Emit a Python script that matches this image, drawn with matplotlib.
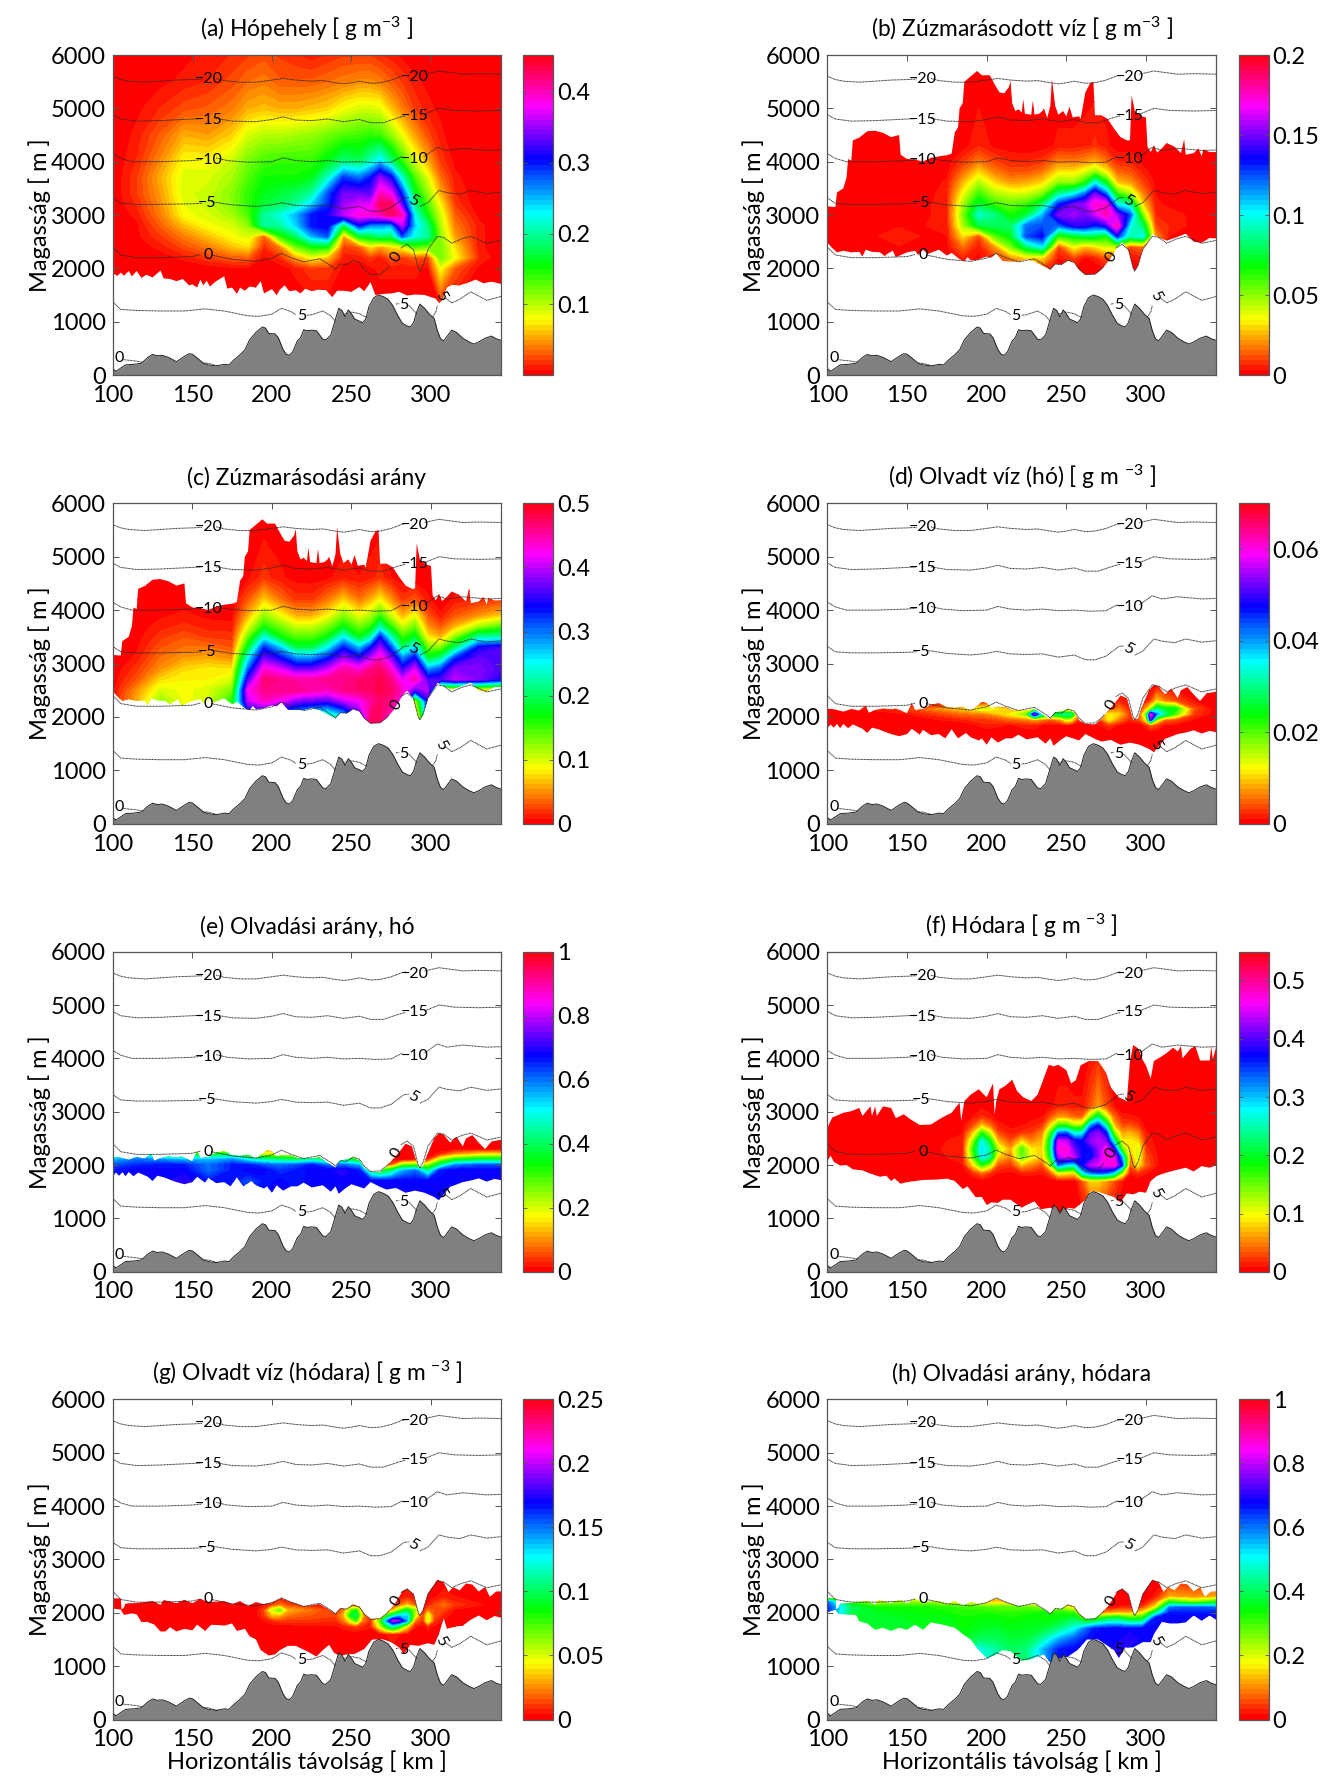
import numpy as np
import matplotlib
matplotlib.use('Agg')
import matplotlib.pyplot as plt
from matplotlib.patches import Polygon
from matplotlib.cm import ScalarMappable
from matplotlib.colors import Normalize

plt.rcParams['font.family'] = ['Lato', 'DejaVu Sans']
plt.rcParams['mathtext.fontset'] = 'custom'
plt.rcParams['mathtext.rm'] = 'Lato'
plt.rcParams['mathtext.default'] = 'regular'

# ---------- shared: terrain ----------
terrain_x = [100,102,105,108,113,118,122,125,128,131,135,140,145,148,150,153,157,160,165,170,173,176,180,183,186,190,194,196,198,202,204,207,209,211,213,216,218,220,222,225,228,230,232,234,237,240,242,244,246,248,250,252,255,257,259,261,264,267,270,273,276,279,282,285,287,289,291,293,296,299,302,304,306,308,310,313,316,320,324,327,330,334,338,341,345]
terrain_z = [120,70,130,190,200,220,330,385,360,370,330,250,350,400,390,320,220,190,170,200,190,280,380,470,660,800,900,880,780,770,700,480,390,370,430,640,700,850,830,840,830,750,670,660,750,1050,1250,1210,1090,1220,1150,1050,1010,980,1050,1280,1450,1500,1470,1420,1300,1120,970,920,900,980,1180,1330,1250,1140,1060,830,680,640,720,840,800,690,620,580,620,690,730,680,640]

# ---------- shared: isotherms (nan = gap for a label) ----------
nan = float('nan')
iso_m20_x = [100,105,110,120,130,140,150,156,nan,165,170,180,190,200,207,215,225,232,240,245,250,255,262,268,275,282,284,nan,296,305,310,320,330,345]
iso_m20_z = [5600,5540,5510,5490,5510,5530,5540,5550,nan,5560,5520,5490,5490,5530,5560,5530,5510,5520,5480,5460,5480,5510,5470,5480,5530,5610,5620,nan,5640,5700,5680,5640,5650,5640]
iso_m15_x = [100,105,115,130,150,156,nan,165,175,190,200,207,215,225,235,245,255,262,270,280,284,nan,296,305,315,330,345]
iso_m15_z = [4880,4800,4760,4770,4800,4810,nan,4810,4760,4750,4790,4840,4780,4770,4800,4750,4790,4730,4730,4830,4860,nan,4890,5000,4960,4950,4960]
iso_m10_x = [100,105,112,130,150,156,nan,165,172,185,200,207,215,225,235,245,255,265,275,282,nan,296,304,310,320,335,345]
iso_m10_z = [4150,4060,4000,4000,4020,4040,nan,4070,4020,3990,4000,4070,4020,4000,4020,3990,4000,3980,3990,4100,nan,4100,4270,4210,4250,4210,4220]
iso_m5_x = [100,105,115,130,150,156,nan,162,175,190,200,206,215,225,235,245,255,262,268,275,283,286,nan,293,298,305,310,318,325,335,345]
iso_m5_z = [3320,3220,3200,3200,3210,3220,nan,3250,3190,3160,3190,3230,3180,3170,3180,3120,3160,3070,3070,3140,3320,3330,nan,3160,3230,3460,3420,3390,3460,3400,3430]
iso_0_x = [100,105,115,130,150,155,nan,162,175,190,200,206,212,220,230,237,240,243,247,251,255,258,262,268,272,274,nan,281,285,289,292,293,295,298,304,308,313,319,325,335,345]
iso_0_z = [2400,2250,2200,2200,2220,2260,nan,2250,2170,2130,2190,2280,2200,2120,2180,2050,1980,2080,2070,2150,2110,1980,1880,1890,1980,2050,nan,2380,2450,2350,2000,1950,2050,2350,2600,2580,2470,2550,2600,2470,2530]
iso_5_x = [100,105,115,130,145,158,170,185,192,200,206,212,215,nan,222,225,232,237,240,246,250,255,258,262,nan,278,280,nan,286,290,294,300,303,304,nan,309,313,318,325,335,345]
iso_5_z = [1370,1230,1210,1200,1200,1240,1200,1110,1100,1140,1250,1190,1130,nan,1120,1130,1200,1110,1000,1150,1180,1150,1100,1050,nan,1330,1340,nan,1310,1180,1000,1050,1180,1300,nan,1450,1350,1420,1560,1400,1480]
iso_0low_x = [106,115,125,135,150,160,168]
iso_0low_z = [290,260,200,150,230,220,150]

label_txt = ['\u221220','\u221220','\u221215','\u221215','\u221210','\u221210','\u22125','5','0','0','5','5','5','0']
label_x = [160,290,160,290,160,290,159,289,160,278,218.5,283,306,104]
label_z = [5550,5590,4780,4860,4030,4050,3220,3270,2250,2220,1110,1310,1480,320]
label_rot = [0,0,0,0,0,0,0,-30,0,60,0,0,-60,0]

# ---------- data grids ----------
X_main = [100,115,130,145,160,175,185,195,205,215,225,235,245,255,262,268,275,282,290,298,306,315,330,345]

# (a) snow
Z_a = [1200,2000,2200,2400,2600,2800,3000,3200,3400,3700,4000,4500,5000,5500,6000]
F_a = [
 [0]*24,
 [0,0,0,0,.003,.005,.005,0,.003,.01,.02,.02,.005,.003,.005,.01,.01,.01,.01,.005,.08,.03,.005,0],
 [0,0,.003,.01,.02,.03,.03,.005,.015,.05,.08,.06,.01,.01,.02,.01,.03,.02,.03,.02,.12,.08,.015,0],
 [0,.003,.01,.025,.04,.06,.07,.015,.04,.12,.15,.15,.02,.03,.07,.05,.07,.08,.13,.12,.12,.07,.01,0],
 [0,.005,.02,.04,.06,.08,.09,.03,.14,.18,.25,.28,.05,.16,.17,.19,.18,.28,.22,.20,.11,.05,.01,0],
 [0,.005,.03,.06,.08,.09,.11,.20,.20,.24,.30,.31,.17,.30,.26,.26,.25,.36,.24,.19,.10,.04,.01,0],
 [0,.01,.04,.08,.09,.105,.13,.20,.22,.25,.30,.31,.36,.39,.39,.40,.43,.40,.22,.15,.09,.03,.005,0],
 [0,.015,.045,.085,.095,.115,.14,.17,.18,.20,.24,.29,.35,.37,.37,.43,.43,.33,.19,.13,.075,.02,0,0],
 [0,.02,.05,.09,.095,.115,.14,.16,.17,.18,.20,.28,.34,.34,.33,.40,.38,.29,.16,.11,.055,.015,0,0],
 [0,.02,.055,.09,.09,.105,.13,.15,.15,.15,.16,.21,.29,.27,.30,.35,.31,.21,.13,.085,.035,.01,0,0],
 [0,.015,.045,.08,.08,.095,.12,.135,.14,.14,.14,.16,.19,.18,.21,.24,.19,.14,.09,.055,.02,.005,0,0],
 [0,.01,.03,.055,.05,.065,.09,.10,.10,.105,.11,.12,.13,.135,.14,.135,.11,.08,.05,.025,.01,0,0,0],
 [0,.005,.015,.025,.03,.04,.055,.06,.055,.055,.06,.065,.08,.09,.09,.085,.06,.04,.02,.01,.005,0,0,0],
 [0,0,.005,.01,.015,.025,.035,.04,.03,.03,.03,.035,.04,.045,.045,.04,.03,.02,.01,.005,0,0,0,0],
 [0,0,0,.005,.01,.015,.02,.025,.02,.015,.01,.015,.02,.02,.02,.015,.01,.005,0,0,0,0,0,0],
]
lo_a_x = [100,103,105,107,110,112,115,118,121,125,130,132,136,140,144,148,150,153,155,157,159,161,165,170,172,175,178,180,183,186,190,193,195,200,203,205,208,211,215,218,221,225,229,234,238,241,245,250,255,258,262,265,270,275,280,285,290,296,300,303,305,307,310,313,318,325,328,333,338,345]
lo_a_z = [1900,1860,1920,1860,1950,1850,1950,1820,1880,1830,1960,1810,1800,1760,1800,1680,1700,1640,1790,1680,1770,1660,1760,1850,1620,1640,1520,1640,1580,1660,1640,1760,1530,1610,1500,1600,1680,1570,1590,1530,1620,1570,1600,1590,1460,1580,1580,1560,1650,1570,1740,1500,1520,1530,1560,1490,1510,1500,1460,1430,1350,1400,1640,1690,1680,1750,1790,1720,1750,1700]
hi_a_x = [100,345]
hi_a_z = [6000,6000]

# (b) rimed water
Z_b = [1800,2000,2200,2400,2600,2800,3000,3200,3400,3600,3800,4000,4300,5800]
F_b = [
 [0]*24,
 [0,0,0,0,0,0,.002,0,.003,.006,.01,.01,.002,.003,.001,.001,.003,.002,.001,.002,0,0,0,0],
 [0,0,.001,.002,.001,.001,.006,.002,.008,.02,.03,.03,.003,.01,.002,.005,.012,.01,.003,.005,0,0,0,0],
 [0,0,.002,.003,.002,.002,.015,.004,.02,.05,.08,.10,.01,.035,.025,.03,.04,.04,.01,.015,.01,0,0,0],
 [0,.001,.003,.004,.003,.003,.03,.01,.055,.07,.125,.135,.06,.07,.075,.075,.065,.13,.09,.10,.02,.003,.001,0],
 [0,.002,.003,.003,.003,.004,.045,.075,.08,.08,.12,.125,.12,.14,.14,.13,.14,.18,.10,.08,.01,.006,.002,0],
 [0,.002,.003,.002,.002,.005,.05,.095,.085,.065,.075,.11,.15,.155,.15,.16,.18,.155,.125,.05,.006,.005,.002,0],
 [0,.001,.001,.002,.002,.005,.045,.075,.06,.055,.06,.08,.13,.15,.155,.175,.175,.10,.09,.03,.004,.002,.001,0],
 [0,0,0,.001,.001,.005,.035,.06,.045,.04,.04,.05,.085,.10,.12,.15,.12,.06,.045,.018,.003,.001,.001,0],
 [0,0,0,0,0,.004,.025,.045,.03,.022,.024,.03,.05,.05,.065,.10,.07,.028,.022,.01,.002,0,0,0],
 [0,0,0,0,0,.002,.015,.03,.018,.012,.012,.017,.032,.032,.04,.05,.035,.015,.012,.005,.001,0,0,0],
 [0,0,0,0,0,.001,.008,.017,.01,.006,.006,.008,.018,.017,.02,.024,.016,.006,.006,.002,0,0,0,0],
 [0,0,0,0,0,0,.001,.006,.002,.001,0,.001,.004,.004,.005,.007,.004,.001,.001,0,0,0,0,0],
 [0]*24,
]
hi_b_x = [100,105,106,110,112,113,115,116,120,125,130,135,140,145,146,150,155,160,165,170,175,178,180,182,183,185,186,190,194,197,202,205,208,211,214,215,216,218,220,222,223,224,228,229,230,233,235,236,238,240,241,243,245,248,250,252,254,258,259,262,265,267,268,272,276,280,284,288,290,291,293,297,300,301,303,305,307,310,313,318,322,324,325,330,333,335,336,340,345]
hi_b_z = [3160,3150,3420,3500,3700,4050,4020,4400,4450,4570,4580,4540,4460,4500,4130,4050,4040,4000,4070,4100,4120,4150,4550,4640,5000,5100,5500,5600,5700,5620,5620,5450,5300,5280,5400,5520,5100,4950,4980,4920,5170,4900,4880,5150,4880,4900,4950,5000,4820,5050,5550,5050,4880,4950,4850,5030,4830,4850,4800,5300,5470,5500,4870,4870,4800,4620,4460,4400,4400,5250,4950,4850,4830,4280,4180,4310,4170,4250,4350,4280,4160,4420,4130,4160,4250,4100,4230,4180,4180]
lo_b_x = [100,103,106,110,115,120,122,124,128,133,136,138,141,143,150,155,157,160,163,170,175,178,183,186,188,190,194,200,203,206,210,215,220,225,230,235,240,243,247,251,255,258,262,268,272,277,282,285,289,292,293,295,298,304,308,313,319,325,330,335,340,345]
lo_b_z = [2480,2380,2300,2330,2300,2310,2220,2350,2310,2300,2230,2280,2330,2210,2300,2330,2250,2350,2270,2350,2240,2290,2170,2130,2210,2150,2160,2220,2200,2280,2140,2130,2130,2170,2130,2050,1980,2080,2070,2150,2110,1980,1880,1890,1980,2150,2400,2500,2350,2000,1950,2050,2350,2650,2580,2520,2580,2650,2500,2480,2570,2560]

# (c) riming fraction
Z_c = [1800,2000,2300,2500,2700,2900,3100,3300,3500,3700,3900,4200,4600,5800]
F_c = [
 [.1,.1,.1,.1,.1,.1,.3,.3,.3,.25,.22,.2,.25,.35,.47,.47,.43,.4,.02,.3,.3,.2,.2,.2],
 [.1,.1,.1,.1,.1,.1,.3,.3,.3,.25,.22,.2,.25,.35,.47,.47,.43,.4,.02,.3,.3,.2,.2,.2],
 [.01,.06,.12,.09,.10,.16,.40,.44,.42,.38,.37,.36,.40,.42,.45,.47,.46,.42,.10,.34,.3,.2,.2,.2],
 [.005,.05,.1,.09,.10,.13,.42,.46,.46,.46,.45,.44,.46,.47,.47,.48,.47,.44,.36,.40,.06,.06,.06,.06],
 [.002,.03,.075,.085,.085,.10,.36,.47,.46,.45,.45,.46,.46,.47,.47,.48,.46,.41,.45,.36,.36,.40,.38,.34],
 [0,.02,.05,.075,.08,.08,.30,.43,.41,.37,.37,.40,.45,.43,.46,.47,.43,.35,.41,.28,.31,.38,.38,.36],
 [0,.01,.04,.055,.06,.05,.25,.375,.34,.29,.29,.33,.39,.35,.40,.44,.38,.29,.34,.18,.21,.32,.37,.36],
 [0,.006,.03,.04,.04,.03,.18,.325,.27,.19,.19,.25,.33,.27,.33,.39,.31,.20,.26,.13,.125,.20,.34,.36],
 [0,.004,.02,.03,.02,.02,.13,.24,.17,.14,.14,.17,.25,.17,.22,.33,.23,.15,.18,.08,.06,.12,.22,.22],
 [0,.002,.012,.018,.012,.01,.09,.16,.13,.10,.10,.125,.167,.13,.15,.22,.15,.10,.13,.05,.03,.06,.11,.14],
 [0,.001,.006,.01,.005,.005,.06,.12,.09,.06,.06,.083,.125,.09,.11,.15,.10,.06,.09,.03,.01,.03,.05,.07],
 [0,0,.002,.003,.002,.002,.03,.07,.04,.02,.02,.04,.07,.04,.06,.083,.05,.02,.03,.01,0,.01,.015,.02],
 [0,0,0,0,0,0,.006,.02,.01,.004,.003,.006,.012,.008,.012,.02,.008,.002,.002,.001,0,0,0,0],
 [0]*24,
]

# (d) meltwater, snow
X_d = [100,150,185,200,215,225,230,235,240,247,250,253,258,270,277,283,290,296,300,303,307,312,318,330,345]
Z_d = [1200,1700,1850,1950,2050,2150,2300,2600]
F_d = [
 [0]*25,
 [0]*25,
 [0,0,0,.002,.001,.002,.002,.001,.001,.001,.001,.001,0,.001,.003,.001,0,0,.002,.005,.003,.001,.001,0,0],
 [0,0,.002,.003,.005,.006,.008,.006,.004,.008,.015,.012,.002,.002,.012,.006,.002,.004,.012,.05,.015,.005,.004,.001,0],
 [0,.001,.005,.006,.012,.018,.055,.03,.025,.03,.03,.03,.005,.005,.012,.01,.003,.004,.018,.06,.04,.03,.02,.003,0],
 [0,.003,.01,.014,.008,.01,.012,.02,.02,.006,.005,.005,0,.002,.003,.006,.002,.002,.008,.015,.03,.025,.025,.004,0],
 [0,0,0,0,0,0,0,0,0,0,0,0,0,0,0,.002,.001,0,.001,.003,.01,.006,.004,.001,0],
 [0]*25,
]
hi_d_x = [100,103,106,110,115,120,124,126,130,135,140,143,150,153,155,160,165,170,175,180,185,190,193,197,200,203,207,212,216,222,230,236,240,243,247,251,255,258,262,268,272,277,281,284,288,291,292,295,297,302,305,308,312,316,320,322,326,330,334,338,345]
hi_d_z = [2150,2150,2130,2100,2150,2120,2210,2080,2130,2160,2140,2160,2070,2260,2130,2150,2230,2260,2180,2170,2190,2120,2180,2280,2260,2160,2190,2180,2130,2120,2140,2020,1950,2090,2100,2140,2080,1940,1870,1860,1960,2140,2280,2400,2350,2050,1950,1970,2150,2500,2600,2570,2420,2530,2350,2500,2560,2420,2300,2440,2480]
lo_d_x = [100,102,104,106,108,110,113,116,122,125,128,132,140,145,150,153,158,160,165,170,174,178,182,187,190,195,197,200,203,207,212,216,220,225,232,237,240,242,246,250,255,258,262,268,272,278,284,290,296,302,305,308,312,320,325,330,335,340,345]
lo_d_z = [1790,1860,1800,1870,1790,1870,1790,1860,1780,1700,1800,1770,1680,1640,1680,1780,1670,1760,1660,1680,1600,1770,1600,1700,1620,1560,1600,1480,1620,1520,1600,1600,1670,1580,1620,1500,1600,1460,1560,1640,1590,1560,1680,1590,1540,1570,1480,1520,1480,1400,1340,1450,1590,1680,1710,1750,1690,1740,1710]

# (e) melted fraction, snow
Z_e = [1200,1700,1900,2000,2100,2200,2300,2700]
F_e = [
 [.68]*24,
 [.68,.68,.68,.70,.66,.66,.62,.66,.68,.66,.68,.68,.68,.68,.68,.68,.68,.68,.68,.68,.68,.68,.68,.68],
 [.66,.68,.68,.68,.60,.66,.68,.68,.64,.66,.68,.68,.70,.66,.40,.30,.40,.55,.60,.42,.66,.68,.68,.68],
 [.62,.65,.66,.66,.60,.66,.66,.62,.60,.62,.66,.60,.60,.55,.03,.02,.06,.25,.28,.22,.42,.58,.62,.62],
 [.55,.60,.58,.55,.55,.58,.50,.45,.42,.40,.45,.40,.42,.30,0,0,0,0,.02,.03,.22,.33,.38,.38],
 [.45,.50,.30,.35,.35,.40,.30,.2,.2,.15,.2,.15,.2,.05,0,0,0,0,0,0,.03,.1,.15,.17],
 [.1,.1,.1,.1,.1,.1,.1,.1,.1,.1,.1,.1,.1,0,0,0,0,0,0,0,0,0,0,0],
 [0]*24,
]

# (f) graupel
X_f = [100,150,185,192,197,202,207,215,222,228,235,240,245,250,255,260,265,270,275,280,285,290,295,300,310,345]
Z_f = [1000,1700,1850,2000,2150,2300,2450,2600,2750,2900,3100,4400]
F_f = [
 [0]*26,
 [0,0,0,0,0,0,0,0,0,0,0,0,0,0,0,.03,.08,.08,.06,.03,.01,0,0,0,0,0],
 [0,0,.002,.02,.04,.02,.008,.005,.012,.012,.01,.03,.10,.09,.08,.27,.32,.34,.33,.28,.12,.01,.02,.01,0,0],
 [0,0,.008,.09,.17,.12,.03,.02,.07,.05,.03,.12,.33,.28,.27,.37,.44,.45,.47,.48,.36,.03,.09,.035,0,0],
 [0,0,.012,.16,.28,.24,.08,.05,.15,.10,.07,.19,.43,.46,.44,.37,.36,.42,.48,.46,.30,.05,.11,.03,0,0],
 [0,0,.014,.18,.29,.24,.12,.06,.16,.09,.08,.22,.47,.48,.41,.37,.37,.42,.47,.38,.15,.08,.11,.02,0,0],
 [0,0,.012,.14,.27,.19,.07,.03,.08,.05,.07,.21,.45,.44,.38,.37,.42,.44,.42,.25,.09,.09,.08,.015,0,0],
 [0,0,.008,.08,.17,.11,.03,.012,.02,.025,.05,.16,.33,.34,.26,.27,.40,.42,.37,.14,.06,.07,.05,.01,0,0],
 [0,0,.005,.03,.07,.04,.012,.005,.008,.012,.02,.08,.16,.16,.12,.12,.30,.36,.24,.07,.03,.03,.02,.004,0,0],
 [0,0,.002,.01,.02,.012,.004,.002,.004,.005,.008,.03,.06,.055,.04,.04,.13,.22,.12,.04,.012,.01,.008,.002,0,0],
 [0,0,0,.002,.005,.002,.001,0,.001,.002,.003,.006,.012,.012,.01,.01,.03,.06,.03,.008,.003,.002,.002,0,0,0],
 [0]*26,
]
hi_f_x = [100,103,110,115,120,122,127,128,130,131,135,140,143,148,152,158,165,172,178,183,184,186,190,195,200,204,205,206,208,212,216,219,223,228,232,236,239,242,245,250,253,256,259,264,270,275,278,283,288,290,292,295,298,300,303,305,310,313,317,320,322,323,328,331,334,340,341,342,344,345]
hi_f_z = [2700,2890,2980,3010,3070,2920,3100,2920,3100,2920,3100,3070,2880,2950,2860,2750,2760,2890,2980,3170,2830,3200,3320,3420,3270,3530,2940,3200,3420,3490,3600,3390,3270,3200,3320,3640,3880,3850,3880,3780,3530,3590,3870,3950,3950,3730,3450,3270,3200,3950,4250,4190,3970,3870,3620,3950,4040,4100,4200,4130,4230,4000,4180,4230,3960,3960,4230,3990,4200,3980]
lo_f_x = [100,102,104,108,112,116,122,127,133,137,140,142,146,150,155,160,170,175,180,185,188,193,197,200,203,207,210,215,222,225,230,234,238,240,243,248,251,255,258,262,265,270,275,280,284,288,292,296,300,303,307,312,318,325,330,335,340,345]
lo_f_z = [2070,2180,2060,1990,2000,1920,1900,1840,1780,1800,1700,1750,1650,1680,1700,1720,1730,1750,1700,1550,1600,1400,1400,1250,1300,1290,1350,1350,1200,1250,1320,1170,1190,1200,1150,1100,1200,1180,1250,1350,1500,1500,1450,1400,1300,1470,1450,1500,1480,1700,1800,1850,1900,1950,1880,1980,1950,2000]

# (g) meltwater, graupel
X_g = [100,190,195,200,205,210,225,240,245,250,253,257,262,268,272,276,280,285,290,295,298,302,308,315,345]
Z_g = [1100,1600,1750,1850,1950,2050,2150,2300,2700]
F_g = [
 [0]*25,
 [0,0,0,0,0,0,0,0,0,0,0,0,0,.002,.004,.006,.004,.002,0,0,0,0,0,0,0],
 [0,0,.001,.002,.002,.002,.003,.003,.006,.01,.012,.008,.005,.05,.09,.12,.09,.04,.005,.002,.008,.003,.001,0,0],
 [0,.001,.004,.008,.01,.01,.01,.008,.02,.05,.07,.02,.008,.07,.14,.20,.19,.14,.02,.008,.05,.01,.003,.001,0],
 [0,.002,.01,.03,.03,.02,.015,.012,.03,.09,.10,.03,.005,.015,.07,.10,.13,.13,.05,.008,.05,.015,.006,.002,0],
 [0,.002,.012,.05,.065,.03,.02,.008,.02,.07,.08,.02,0,0,.01,.03,.06,.09,.06,.004,.02,.015,.012,.003,0],
 [0,.001,.004,.01,.02,.012,.005,.002,.003,.004,.004,.001,0,0,0,.003,.015,.03,.015,.001,.005,.012,.02,.01,0],
 [0,0,0,0,0,0,0,0,0,0,0,0,0,0,0,0,.003,.006,.003,0,0,.003,.006,.004,0],
 [0]*25,
]
hi_g_x = [100,105,105.5,107,108,115,125,130,132,140,145,150,155,160,170,175,180,185,190,195,200,206,212,220,230,237,240,243,247,251,255,258,262,268,272,277,282,285,289,292,293,295,298,304,308,311,314,318,322,326,330,334,337,341,345]
hi_g_z = [2270,2270,2060,2100,2170,2180,2220,2150,2240,2180,2240,2180,2260,2200,2220,2160,2220,2130,2200,2160,2190,2270,2200,2120,2160,2040,1980,2080,2070,2150,2110,1980,1880,1890,1980,2150,2400,2450,2350,2000,1950,2050,2350,2620,2570,2390,2480,2420,2550,2530,2400,2480,2300,2400,2400]
lo_g_x = [100,105,107,112,115,118,122,126,130,133,136,140,145,150,153,158,162,170,175,178,183,186,190,193,198,202,205,210,215,222,228,232,236,239,243,247,252,258,263,270,275,280,283,287,292,298,302,305,308,310,315,320,325,330,335,340,345]
lo_g_z = [2080,2060,1960,1990,1970,1830,1830,1780,1650,1650,1730,1650,1700,1670,1780,1660,1780,1760,1800,1660,1700,1560,1500,1300,1200,1220,1300,1380,1380,1280,1180,1300,1400,1250,1190,1220,1230,1320,1500,1500,1450,1350,1230,1400,1380,1430,1400,1600,1900,1700,1740,1760,1870,1950,1860,1940,1900]

# (h) melted fraction, graupel
Z_h = [1000,1300,1500,1700,1900,2000,2100,2200,2300,2700]
F_h = [
 [.45,.35,.35,.35,.35,.35,.38,.50,.45,.40,.42,.55,.66,.68,.68,.68,.68,.70,.68,.68,.68,.68,.68,.68],
 [.45,.35,.35,.35,.35,.35,.38,.50,.45,.40,.42,.55,.66,.68,.68,.68,.68,.70,.68,.68,.68,.68,.68,.68],
 [.45,.36,.36,.36,.36,.36,.36,.40,.40,.38,.38,.45,.56,.62,.66,.68,.68,.68,.70,.68,.68,.68,.68,.68],
 [.45,.36,.37,.36,.36,.36,.34,.36,.37,.35,.36,.37,.42,.50,.60,.66,.68,.68,.68,.68,.68,.68,.68,.68],
 [.55,.37,.36,.36,.35,.35,.33,.34,.34,.33,.34,.34,.34,.38,.25,.28,.35,.38,.30,.33,.66,.68,.68,.68],
 [.65,.38,.36,.35,.34,.33,.32,.32,.32,.31,.32,.33,.32,.30,.02,.05,.10,.12,.12,.17,.42,.66,.66,.66],
 [.65,.40,.34,.33,.33,.32,.30,.30,.28,.28,.28,.25,.24,.15,0,0,.01,.02,.03,.05,.17,.60,.62,.60],
 [.60,.30,.20,.25,.25,.20,.20,.15,.15,.15,.15,.1,.1,.05,0,0,0,0,0,0,.08,.33,.25,.33],
 [.2,.1,.1,.1,.1,.1,.1,.1,.1,.1,.1,.1,.1,0,0,0,0,0,0,0,.02,.12,.1,.12],
 [0]*24,
]
lo_h_x = [100,105,107,118,120,125,130,135,140,145,150,155,160,165,172,180,185,190,195,200,205,210,215,222,228,232,236,240,246,251,257,263,270,275,280,283,287,292,298,303,305,310,315,320,325,330,335,340,345]
lo_h_z = [2010,2060,1980,1960,1840,1800,1680,1720,1660,1720,1680,1780,1680,1820,1780,1720,1600,1500,1300,1150,1200,1300,1280,1100,1130,1180,1220,1060,1150,1180,1300,1500,1500,1400,1300,1150,1350,1350,1450,1450,1600,1830,1800,1800,1820,1950,1850,1950,1850]

titles = ['(a) Hópehely [ g m$^{-3}$ ]', '(b) Zúzmarásodott víz [ g m$^{-3}$ ]',
          '(c) Zúzmarásodási arány', '(d) Olvadt víz (hó) [ g m $^{-3}$ ]',
          '(e) Olvadási arány, hó', '(f) Hódara [ g m $^{-3}$ ]',
          '(g) Olvadt víz (hódara) [ g m $^{-3}$ ]', '(h) Olvadási arány, hódara']
vmaxes = [0.452, 0.2, 0.5, 0.07, 1, 0.55, 0.25, 1]
vmins = [0.0005, 0, 0, 0, 0, 0, 0, 0]
cticks = [[.1,.2,.3,.4], [0,.05,.1,.15,.2], [0,.1,.2,.3,.4,.5], [0,.02,.04,.06],
          [0,.2,.4,.6,.8,1], [0,.1,.2,.3,.4,.5], [0,.05,.1,.15,.2,.25], [0,.2,.4,.6,.8,1]]
ctlabels = [['0.1','0.2','0.3','0.4'], ['0','0.05','0.1','0.15','0.2'], ['0','0.1','0.2','0.3','0.4','0.5'],
            ['0','0.02','0.04','0.06'], ['0','0.2','0.4','0.6','0.8','1'], ['0','0.1','0.2','0.3','0.4','0.5'],
            ['0','0.05','0.1','0.15','0.2','0.25'], ['0','0.2','0.4','0.6','0.8','1']]
grids = [(X_main,Z_a,F_a,lo_a_x,lo_a_z,hi_a_x,hi_a_z),
         (X_main,Z_b,F_b,lo_b_x,lo_b_z,hi_b_x,hi_b_z),
         (X_main,Z_c,F_c,lo_b_x,lo_b_z,hi_b_x,hi_b_z),
         (X_d,Z_d,F_d,lo_d_x,lo_d_z,hi_d_x,hi_d_z),
         (X_main,Z_e,F_e,lo_d_x,lo_d_z,hi_d_x,hi_d_z),
         (X_f,Z_f,F_f,lo_f_x,lo_f_z,hi_f_x,hi_f_z),
         (X_g,Z_g,F_g,lo_g_x,lo_g_z,hi_g_x,hi_g_z),
         (X_main,Z_h,F_h,lo_h_x,lo_h_z,hi_g_x,hi_g_z)]

# ---------- layout (pixels) ----------
W, H = 1333, 1788
col_left = [112.8, 827.4]
col_right = [501, 1216]
cb_left = [523, 1238.5]
cb_right = [553, 1268.5]
row_top = [55, 503.3, 951.7, 1399.4]
row_bot = [375, 823.8, 1271.7, 1719.5]
FS = 17
EDGE = '#555555'

fig = plt.figure(figsize=(W/100, H/100), dpi=100, facecolor='white')
cmap = matplotlib.colormaps['hsv'].resampled(64)
iso_lines = [(iso_m20_x,iso_m20_z),(iso_m15_x,iso_m15_z),(iso_m10_x,iso_m10_z),(iso_m5_x,iso_m5_z),(iso_0_x,iso_0_z),(iso_5_x,iso_5_z),(iso_0low_x,iso_0low_z)]

for i in range(8):
    r, c = i//2, i%2
    ax = fig.add_axes([col_left[c]/W, 1-row_bot[r]/H, (col_right[c]-col_left[c])/W, (row_bot[r]-row_top[r])/H])
    Xg, Zg, Fg, lox, loz, hix, hiz = grids[i]
    levels = np.linspace(vmins[i], vmaxes[i], 65)
    cs = ax.contourf(Xg, Zg, np.array(Fg, float), levels=levels, cmap=cmap,
                     vmin=vmins[i], vmax=vmaxes[i], extend='both', antialiased=False, zorder=1)
    poly = np.vstack([np.column_stack([lox, loz]), np.column_stack([hix, hiz])[::-1]])
    patch = Polygon(poly, closed=True, transform=ax.transData, fc='none', ec='none')
    ax.add_patch(patch)
    cs.set_clip_path(patch)
    for lx, lz in iso_lines:
        ax.plot(lx, lz, color='#2a2a2a', lw=0.7, ls=(0,(1,0.5)), zorder=2)
    ax.fill_between(terrain_x, 0, terrain_z, color='#808080', lw=0, zorder=3)
    ax.plot(terrain_x, terrain_z, color='#222222', lw=0.7, zorder=3)
    for t, lx, lz, rot in zip(label_txt, label_x, label_z, label_rot):
        ax.text(lx, lz, t, fontsize=11.5, rotation=rot, ha='center', va='center', zorder=4, color='black')
    ax.set_xlim(100, 344)
    ax.set_ylim(0, 6000)
    ax.set_xticks([100,150,200,250,300])
    ax.set_yticks([0,1000,2000,3000,4000,5000,6000])
    ax.tick_params(axis='both', direction='in', top=True, right=True, length=4, width=0.7, color=EDGE, labelsize=FS)
    ax.tick_params(axis='x', pad=7)
    ax.tick_params(axis='y', pad=5)
    for s in ax.spines.values():
        s.set_color(EDGE); s.set_linewidth(0.9); s.set_zorder(6)
    ax.set_title(titles[i], fontsize=16.4, pad=13)
    ax.set_ylabel('Magasság [ m ]', fontsize=FS, labelpad=0)
    if r == 3:
        ax.set_xlabel('Horizontális távolság [ km ]', fontsize=FS, labelpad=0)
    cax = fig.add_axes([cb_left[c]/W, 1-row_bot[r]/H, (cb_right[c]-cb_left[c])/W, (row_bot[r]-row_top[r])/H])
    sm = ScalarMappable(norm=Normalize(vmins[i], vmaxes[i]), cmap=cmap)
    cb = fig.colorbar(sm, cax=cax)
    cb.set_ticks(cticks[i], labels=ctlabels[i])
    cb.ax.tick_params(direction='in', length=3, width=0.6, color=EDGE, labelsize=FS, pad=3, left=True, right=True)
    cb.outline.set_edgecolor(EDGE)
    cb.outline.set_linewidth(0.9)

fig.savefig('out.png', dpi=100)
